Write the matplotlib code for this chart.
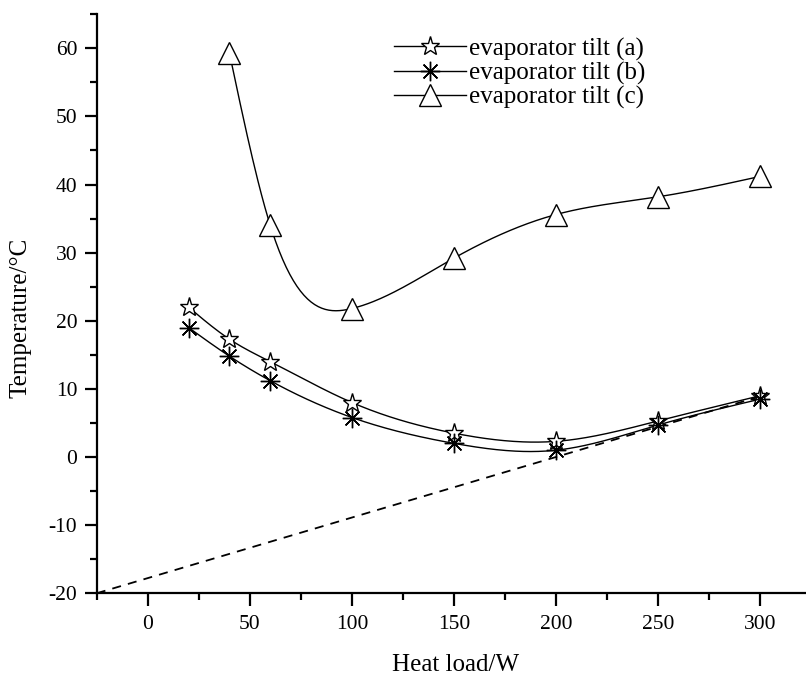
import numpy as np
import matplotlib
matplotlib.use("Agg")
import matplotlib.pyplot as plt

plt.rcParams['font.family'] = ['Liberation Serif', 'DejaVu Serif']
plt.rcParams['axes.unicode_minus'] = False

# data
x_a = [20, 40, 60, 100, 150, 200, 250, 300]
y_a = [22.0, 17.3, 14.0, 8.0, 3.5, 2.3, 5.3, 9.0]

x_b = [20, 40, 60, 100, 150, 200, 250, 300]
y_b = [19.0, 14.8, 11.2, 5.8, 2.0, 1.0, 4.7, 8.5]

x_c = [40, 60, 100, 150, 200, 250, 300]
y_c = [59.3, 34.0, 21.8, 29.2, 35.6, 38.2, 41.2]

# dashed reference line
line_x = [-25, 300]
line_y = [-20.0, 8.9]

labels = ['evaporator tilt (a)', 'evaporator tilt (b)', 'evaporator tilt (c)']


def natural_spline(x, y, n=300):
    # natural cubic spline through the points, just for the smooth connecting line
    x = np.asarray(x, float)
    y = np.asarray(y, float)
    k = len(x)
    h = np.diff(x)
    A = np.zeros((k, k))
    r = np.zeros(k)
    A[0, 0] = 1
    A[-1, -1] = 1
    for i in range(1, k - 1):
        A[i, i - 1] = h[i - 1]
        A[i, i] = 2 * (h[i - 1] + h[i])
        A[i, i + 1] = h[i]
        r[i] = 6 * ((y[i + 1] - y[i]) / h[i] - (y[i] - y[i - 1]) / h[i - 1])
    m = np.linalg.solve(A, r)
    xs = np.linspace(x[0], x[-1], n)
    idx = np.clip(np.searchsorted(x, xs) - 1, 0, k - 2)
    x0, x1 = x[idx], x[idx + 1]
    hh = x1 - x0
    t0 = x1 - xs
    t1 = xs - x0
    ys = (m[idx] * t0 ** 3 / (6 * hh) + m[idx + 1] * t1 ** 3 / (6 * hh)
          + (y[idx] / hh - m[idx] * hh / 6) * t0
          + (y[idx + 1] / hh - m[idx + 1] * hh / 6) * t1)
    return xs, ys


fig = plt.figure(figsize=(8.06, 6.78), dpi=100)
ax = fig.add_axes([0.120, 0.125, 0.879, 0.854])

series = [
    (x_a, y_a, dict(marker='*', ms=14, mfc='white', mec='black', mew=1.0)),
    (x_b, y_b, dict(marker=(8, 2, 0), ms=14, mec='black', mew=1.0)),
    (x_c, y_c, dict(marker='^', ms=16, mfc='white', mec='black', mew=1.0)),
]

for (xs, ys, mk), lab in zip(series, labels):
    sx, sy = natural_spline(xs, ys)
    ax.plot(sx, sy, color='black', lw=1.0, zorder=2)
    ax.plot(xs, ys, linestyle='none', zorder=3, **mk)
    ax.plot([], [], color='black', lw=1.0, label=lab, **mk)

ax.plot(line_x, line_y, color='black', lw=1.3, linestyle=(0, (5, 4)), zorder=1)

ax.set_xlim(-25, 322)
ax.set_ylim(-20, 65)
ax.set_xticks([0, 50, 100, 150, 200, 250, 300])
ax.set_xticks([-25, 25, 75, 125, 175, 225, 275], minor=True)
ax.set_yticks([-20, -10, 0, 10, 20, 30, 40, 50, 60])
ax.set_yticks([-15, -5, 5, 15, 25, 35, 45, 55, 65], minor=True)

for s in ['top', 'right']:
    ax.spines[s].set_visible(False)
for s in ['left', 'bottom']:
    ax.spines[s].set_linewidth(1.6)

ax.tick_params(which='major', direction='out', length=9, width=1.6, labelsize=15.5)
ax.tick_params(which='minor', direction='out', length=5, width=1.6)
ax.tick_params(axis='x', which='major', pad=7)
ax.tick_params(axis='y', which='major', pad=5)

ax.set_xlabel('Heat load/W', fontsize=18)
ax.set_ylabel('Temperature/\u00b0C', fontsize=18)
ax.xaxis.set_label_coords(0.506, -0.105)
ax.yaxis.set_label_coords(-0.092, 0.475)

ax.legend(loc='upper left', bbox_to_anchor=(0.405, 0.977), frameon=False,
          fontsize=18, handlelength=2.9, handletextpad=0.1, labelspacing=0.05,
          borderaxespad=0)

fig.savefig('out.png', dpi=100)
